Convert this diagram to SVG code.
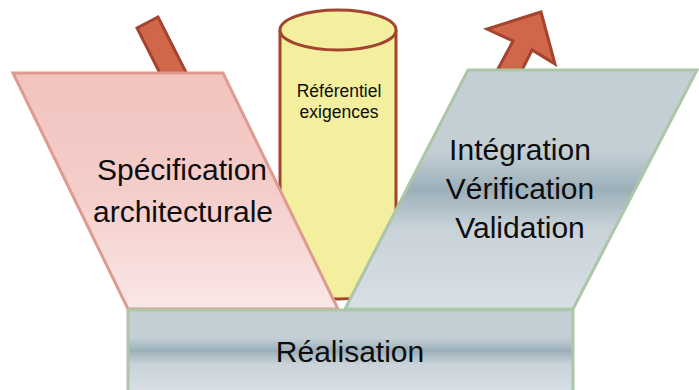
<svg xmlns="http://www.w3.org/2000/svg" width="699" height="390" viewBox="0 0 699 390">
  <defs>
    <linearGradient id="gPink" x1="0" y1="0" x2="0" y2="1">
      <stop offset="0" stop-color="#f2c3be"/>
      <stop offset="0.5" stop-color="#f4cdca"/>
      <stop offset="1" stop-color="#fae7e6"/>
    </linearGradient>
    <linearGradient id="gSilver" x1="0" y1="0" x2="0" y2="1">
      <stop offset="0" stop-color="#c5d0d6"/>
      <stop offset="0.34" stop-color="#c4cfd5"/>
      <stop offset="0.5" stop-color="#9cb0ba"/>
      <stop offset="0.66" stop-color="#c8d2d8"/>
      <stop offset="1" stop-color="#d8e0e6"/>
    </linearGradient>
    <style>
      .arrow { fill: #d0674a; stroke: #a5432f; stroke-width: 3; stroke-linejoin: miter; }
      .pink { fill: url(#gPink); stroke: #dd9c8f; stroke-width: 3; }
      .silver { fill: url(#gSilver); stroke: #abc7a7; stroke-width: 3; }
      .cyl { fill: #f3ef9f; stroke: #a3442f; stroke-width: 3; }
      .big { font-family: "Liberation Sans", Arial, sans-serif; font-size: 30px; fill: #0d0d0d; text-anchor: middle; }
      .small { font-family: "Liberation Sans", Arial, sans-serif; font-size: 17.5px; fill: #0d0d0d; text-anchor: middle; }
    </style>
  </defs>
  <g id="connectors">
    <polygon class="arrow" points="137,28 158,17 192,84 171,95"/>
    <polygon class="arrow" points="541,12 555,64 532,50 517,80 492,80 513,41 487,29"/>
  </g>
  <g id="referentiel">
    <path class="cyl" d="M280,30 V279 A58,20 0 0 0 396,279 V30"/>
    <ellipse class="cyl" cx="338" cy="30" rx="58" ry="20"/>
    <text class="small" x="339" y="97">Référentiel</text>
    <text class="small" x="339" y="118">exigences</text>
  </g>
  <g id="specification">
    <polygon class="pink" points="13,73 223,73 338,309 128,309"/>
    <text class="big" x="182" y="180">Spécification</text>
    <text class="big" x="183" y="222">architecturale</text>
  </g>
  <g id="integration">
    <polygon class="silver" points="468,70 697,70 573,309 345,309"/>
    <text class="big" x="520" y="160">Intégration</text>
    <text class="big" x="520" y="199">Vérification</text>
    <text class="big" x="520" y="238">Validation</text>
  </g>
  <g id="realisation">
    <rect class="silver" x="128" y="310" width="445" height="82"/>
    <text class="big" x="350" y="362">Réalisation</text>
  </g>
</svg>
